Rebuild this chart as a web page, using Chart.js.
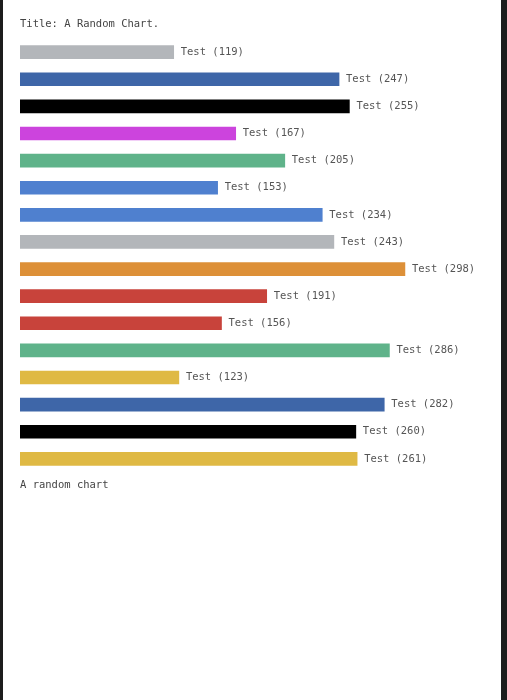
<!DOCTYPE html>
<html>
<head>
<meta charset="utf-8">
<script src="https://cdn.jsdelivr.net/npm/chart.js@4"></script>
<style>
  html, body { margin: 0; padding: 0; background: #1c1c1c; }
  #box { position: absolute; left: 3px; top: 0; width: 498px; height: 700px; background: #fff; }
  #wrap { position: relative; width: 498px; height: 497px; }
</style>
</head>
<body>
<div id="box"><div id="wrap"><canvas id="chart"></canvas></div></div>
<script>
const labels = ["Test", "Test", "Test", "Test", "Test", "Test", "Test", "Test",
                "Test", "Test", "Test", "Test", "Test", "Test", "Test", "Test"];
const values = [119, 247, 255, 167, 205, 153, 234, 243, 298, 191, 156, 286, 123, 282, 260, 261];
const colors = ["#b3b6ba", "#3e66a8", "#000000", "#cc44dd", "#5fb38a", "#4f80cf", "#4f80cf", "#b3b6ba",
                "#dd9038", "#c8433b", "#c8433b", "#5fb38a", "#dfb944", "#3e66a8", "#000000", "#dfb944"];

const mono = "'DejaVu Sans Mono', 'Liberation Mono', monospace";

// etiquetas al final de cada barra
const barLabels = {
  id: "barLabels",
  afterDatasetsDraw(chart) {
    const ctx = chart.ctx;
    ctx.save();
    ctx.font = "10.5px " + mono;
    ctx.fillStyle = "#555";
    ctx.textBaseline = "middle";
    chart.getDatasetMeta(0).data.forEach((bar, i) => {
      ctx.fillText(`${labels[i]} (${values[i]})`, bar.x + 7, bar.y);
    });
    ctx.restore();
  }
};

new Chart(document.getElementById("chart"), {
  type: "bar",
  data: {
    labels,
    datasets: [{ data: values, backgroundColor: colors, barThickness: 13 }]
  },
  options: {
    indexAxis: "y",
    responsive: true,
    maintainAspectRatio: false,
    animation: false,
    layout: { padding: { left: 17, right: 16 } },
    scales: {
      x: { display: false, min: 0, max: 360 },
      y: { display: false }
    },
    plugins: {
      legend: { display: false },
      tooltip: { enabled: false },
      title: {
        display: true, text: "Title: A Random Chart.", align: "start",
        color: "#444", font: { family: mono, size: 10.5, weight: "normal" },
        padding: { top: 18, bottom: 8 }
      },
      subtitle: {
        display: true, text: "A random chart", align: "start", position: "bottom",
        color: "#444", font: { family: mono, size: 10.5, weight: "normal" },
        padding: { top: 7, bottom: 5 }
      }
    }
  },
  plugins: [barLabels]
});
</script>
</body>
</html>
